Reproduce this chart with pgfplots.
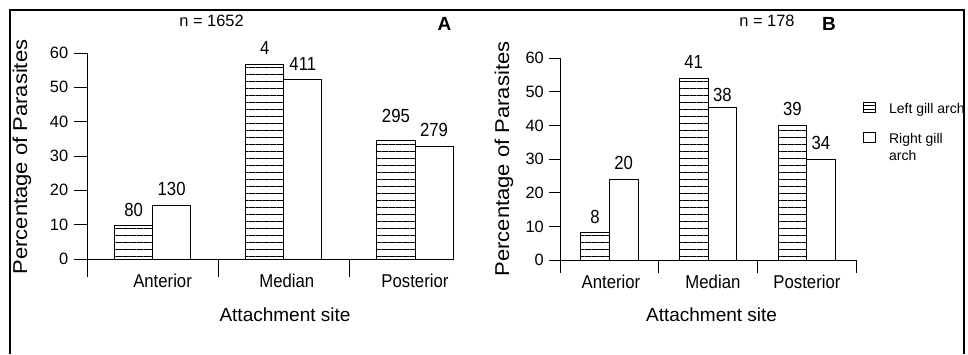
\documentclass[border=0pt]{standalone}
\usepackage{fontspec}
\setmainfont{Liberation Sans}
\newfontfamily\narrowfont[FakeStretch=0.88]{Liberation Sans}
\newfontfamily\catfont[FakeStretch=0.9]{Liberation Sans}
\newfontfamily\widefont[FakeStretch=1.1]{Liberation Sans}
\usepackage{pgfplots}
\pgfplotsset{compat=1.18}
\usepackage{pgfplotstable}
\usetikzlibrary{patterns.meta}

% Panel A (n = 1652): percentage of parasites per attachment site.
% x = category (0 anterior, 1 median, 2 posterior) -/+ half a bar width
\pgfplotstableread{
x       y     lab  dy
-0.145  9.8   80   15
0.855   56.7  4    16
1.855   34.5  295  25
}\leftA
\pgfplotstableread{
x       y     lab  dy
0.145   15.5  130  16.7
1.145   52.2  411  15.4
2.145   32.9  279  15.6
}\rightA
% Panel B (n = 178)
\pgfplotstableread{
x       y     lab  dy
-0.145  8.3   8    15
0.855   54.1  41   16.3
1.855   40.0  39   17
}\leftB
\pgfplotstableread{
x       y     lab  dy
0.145   23.9  20   17
1.145   45.4  38   12
2.145   30.0  34   16.3
}\rightB

\tikzset{catlabel/.style={font=\catfont\fontsize{18.6}{20}\selectfont, anchor=base, yshift=-28pt}}

\pgfplotsset{
  gillaxis/.style={
    scale only axis, axis x line*=bottom, axis y line*=left,
    xmin=-0.5, ymin=0, ymax=60, ytick={0,10,...,60},
    tick align=outside,
    axis line style={line width=1pt, black},
    tick style={line width=1pt, black},
    /pgf/number format/assume math mode=true,
    yticklabel style={font=\fontsize{16.4}{18}\selectfont, anchor=east, inner sep=0pt},
    xticklabels={},
    ylabel={\widefont Percentage of Parasites},
    ylabel style={font=\fontsize{20}{22}\selectfont, anchor=center},
    xlabel={Attachment site},
    xlabel style={font=\fontsize{19}{21}\selectfont, anchor=center},
    clip=false,
  },
  leftbar/.style={ybar, bar width=0.29, bar shift=0pt, draw=black, line width=0.9pt,
    pattern={Lines[distance=7pt, angle=0, line width=0.9pt]}},
  rightbar/.style={ybar, bar width=0.29, bar shift=0pt, draw=black, line width=0.9pt, fill=white},
  barlabels/.style={nodes near coords, point meta=explicit symbolic,
    visualization depends on={\thisrow{dy} \as \dy},
    every node near coord/.append style={anchor=center, inner sep=0pt, yshift=\dy pt,
      font=\narrowfont\fontsize{19}{21}\selectfont, text=black}},
}

\begin{document}
\begin{tikzpicture}
\useasboundingbox (0pt,0pt) rectangle (968pt,354pt);
\draw[line width=2.2pt] (10pt,0pt) -- (10pt,344pt) -- (964pt,344pt) -- (964pt,0pt);

% ---- A ----
\begin{axis}[gillaxis,
  at={(87pt,95pt)}, anchor=south west,
  width=366pt, height=206pt, xmax=2.29,
  major tick length=13.3pt,
  yticklabel style={xshift=-5.3pt},
  xtick={-0.5,0.5,1.5},
  xtick style={/pgfplots/major tick length=18pt},
  ylabel style={at={(rel axis cs:-0.1776,0.495)}},
  xlabel style={at={(rel axis cs:0.541,-0.2718)}},
]
\addplot[leftbar, barlabels] table[x=x, y=y, meta=lab] {\leftA};
\addplot[rightbar, barlabels] table[x=x, y=y, meta=lab] {\rightA};
\node[catlabel] at (axis cs:0.076,0) {Anterior};
\node[catlabel] at (axis cs:1.023,0) {Median};
\node[catlabel] at (axis cs:2.0,0) {Posterior};
\end{axis}
\node[font=\fontsize{16.4}{18}\selectfont] at (211.5pt,333.3pt) {n = 1652};
\node[font=\bfseries\fontsize{19}{21}\selectfont] at (444.5pt,330pt) {A};

% ---- B ----
\begin{axis}[gillaxis,
  at={(560pt,94pt)}, anchor=south west,
  width=296pt, height=201.7pt, xmax=2.5,
  major tick length=11pt,
  yticklabel style={xshift=-5pt},
  xtick={-0.5,0.5,1.5,2.5},
  xtick style={/pgfplots/major tick length=13pt},
  ylabel style={at={(rel axis cs:-0.189,0.5007)}},
  xlabel style={at={(rel axis cs:0.512,-0.2727)}},
  legend style={at={(rel axis cs:1.0236,0.7843)}, anchor=north west,
    draw=none, fill=none, inner sep=0pt, row sep=16.5pt, column sep=13pt,
    font=\fontsize{14}{16.5}\selectfont,
    nodes={inner sep=0pt}, cells={anchor=base west, align=left}},
]
\addplot[leftbar, barlabels,
  legend image code/.code={
    \draw[line width=0.9pt] (0pt,1.5pt) rectangle (12pt,11.5pt);
    \draw[line width=0.9pt] (0pt,4.8pt) -- (12pt,4.8pt) (0pt,8.2pt) -- (12pt,8.2pt);}]
  table[x=x, y=y, meta=lab] {\leftB};
\addlegendentry{Left gill arch}
\addplot[rightbar, barlabels,
  legend image code/.code={
    \draw[line width=0.9pt, fill=white] (0pt,17.5pt) rectangle (12pt,28pt);}]
  table[x=x, y=y, meta=lab] {\rightB};
\addlegendentry{Right gill\\arch}
\node[catlabel] at (axis cs:0.017,0) {Anterior};
\node[catlabel] at (axis cs:1.05,0) {Median};
\node[catlabel] at (axis cs:2.003,0) {Posterior};
\end{axis}
\node[font=\fontsize{16.4}{18}\selectfont] at (767pt,333.3pt) {n = 178};
\node[font=\bfseries\fontsize{19}{21}\selectfont] at (829pt,330pt) {B};
\end{tikzpicture}
\end{document}
